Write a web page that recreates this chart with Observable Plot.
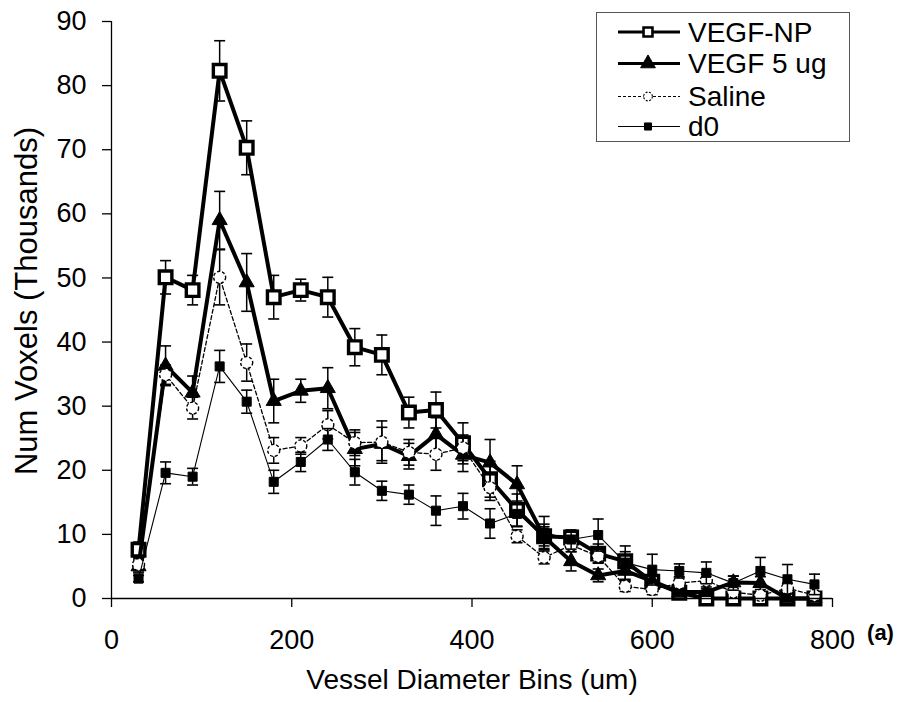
<!DOCTYPE html>
<html><head><meta charset="utf-8">
<script src="https://cdn.jsdelivr.net/npm/d3@7"></script>
<script src="https://cdn.jsdelivr.net/npm/@observablehq/plot@0.6"></script>
<style>
body{margin:0;background:#fff;font-family:"Liberation Sans",Arial,sans-serif;}
#wrap{position:relative;width:911px;height:702px;}
#legend{position:absolute;left:596px;top:12px;}
</style></head><body><div id="wrap"></div>
<script>
const bins = [30,60,90,120,150,180,210,240,270,300,330,360,390,420,450,480,510,540,570,600,630,660,690,720,750,780];
const vegfNP    = [7.6,50.1,48.1,82.3,70.3,47.0,48.1,47.0,39.2,38.0,29.0,29.4,24.2,18.6,13.8,9.7,9.5,7.0,5.8,2.6,0.9,0,0,0,0,0];
const vegfNPErr = [1.2,2.6,2.3,4.7,4.2,3.4,1.7,3.1,2.9,3.1,2.4,2.8,3.2,2.8,2.5,1.5,1.0,1.5,1.5,1.0,0.5,0,0,0,0,0];
const vegf5     = [5.0,36.3,32.1,59.0,49.3,30.8,32.4,32.8,23.3,24.1,22.2,25.6,22.4,21.2,17.8,9.6,5.8,3.6,4.3,2.7,1.0,1.0,2.5,2.4,0,0];
const vegf5Err  = [1.0,3.1,2.6,4.5,4.5,3.4,1.8,3.2,2.6,2.6,2.0,2.6,2.6,3.6,2.9,2.0,1.5,1.0,1.5,1.0,0.5,0.5,1.0,1.0,0,0];
const saline    = [5.3,34.9,29.7,50.1,36.8,23.1,23.8,27.1,24.3,24.4,22.8,22.5,23.5,17.3,9.7,6.4,8.3,6.6,1.9,1.4,2.4,2.8,1.0,0.5,1.6,0.5];
const salineErr = [1.0,1.5,1.7,4.3,2.9,2.0,1.3,2.2,2.0,3.3,2.0,2.5,2.0,2.0,1.0,1.0,1.0,1.0,0.8,0.8,1.0,1.0,0.5,0.5,0.8,0.5];
const d0        = [3.1,19.6,19.0,36.2,30.7,18.2,21.3,24.8,19.7,16.8,16.2,13.7,14.4,11.7,13.2,10.3,9.2,9.9,5.6,4.5,4.3,4.0,2.4,4.3,3.0,2.2];
const d0Err     = [0.5,1.7,1.3,2.5,1.8,1.8,1.5,1.7,2.0,1.5,1.5,2.3,2.0,2.3,2.0,2.5,1.5,2.5,2.6,2.4,1.1,1.7,1.1,2.1,2.3,1.6];
const seriesNames = ["VEGF-NP","VEGF 5 ug","Saline","d0"];
const xTicks = [0,200,400,600,800];
const yTicks = [0,10,20,30,40,50,60,70,80,90];
const xTitle = "Vessel Diameter Bins (um)";
const yTitle = "Num Voxels (Thousands)";
const panelTag = "(a)";

const FONT = '"Liberation Sans", Arial, sans-serif';
const capSymbol = {draw(ctx, size){ const r = Math.sqrt(size/Math.PI); ctx.moveTo(-r,0); ctx.lineTo(r,0); }};

const styles = [
  {symbol:"square", r:7.1, fill:"#fff", sw:3.4, lw:4, dash:null, mdash:null},
  {symbol:"triangle", r:5.6, fill:"#000", sw:1, lw:4, dash:null, mdash:null},
  {symbol:"circle", r:6, fill:"#fff", sw:1.4, lw:1.3, dash:"4,2.5", mdash:"3,2"},
  {symbol:"square", r:5.1, fill:"#000", sw:1, lw:1.1, dash:null, mdash:null}
];
const values = [vegfNP, vegf5, saline, d0];
const errors = [vegfNPErr, vegf5Err, salineErr, d0Err];

function seriesMarks(vals, errs, s){
  const data = bins.map((x,i)=>({x, y: vals[i], lo: Math.max(0, vals[i]-errs[i]), hi: vals[i]+errs[i], e: errs[i]}));
  const withErr = data.filter(d=>d.e>0);
  return [
    Plot.ruleX(withErr, {x:"x", y1:"lo", y2:"hi", stroke:"#000", strokeWidth:1.5}),
    Plot.dot(withErr, {x:"x", y:"hi", symbol:capSymbol, r:5.5, stroke:"#000", fill:"none", strokeWidth:1.6}),
    Plot.dot(withErr.filter(d=>d.y-d.e>0), {x:"x", y:"lo", symbol:capSymbol, r:5.5, stroke:"#000", fill:"none", strokeWidth:1.6}),
    Plot.line(data, {x:"x", y:"y", stroke:"#000", strokeWidth:s.lw, strokeDasharray:s.dash, strokeLinejoin:"miter"}),
    Plot.dot(data, {x:"x", y:"y", symbol:s.symbol, r:s.r, fill:s.fill, stroke:"#000", strokeWidth:s.sw, strokeDasharray:s.mdash})
  ];
}

const chart = Plot.plot({
  width: 911, height: 702,
  marginLeft: 111, marginRight: 79, marginTop: 21, marginBottom: 104,
  x: {domain:[0,800]},
  y: {domain:[0,90]},
  style: {fontFamily: FONT, background:"#fff", color:"#000"},
  marks: [
    Plot.axisX({ticks:xTicks, tickSize:9, tickPadding:22, fontSize:27, label:null, strokeWidth:1.3}),
    Plot.axisY({ticks:yTicks, tickSize:9, tickPadding:16, fontSize:27, label:null, strokeWidth:1.3}),
    ...values.flatMap((v,i)=>seriesMarks(v, errors[i], styles[i])),
    Plot.ruleX([0], {stroke:"#000", strokeWidth:1.3}),
    Plot.ruleY([0], {stroke:"#000", strokeWidth:1.3}),
    Plot.text([xTitle], {text:d=>d, frameAnchor:"bottom", dy:82, fontSize:28, lineAnchor:"middle"}),
    Plot.text([yTitle], {text:d=>d, frameAnchor:"left", dx:-84, dy:-9, rotate:-90, fontSize:31, textAnchor:"middle", lineAnchor:"middle"}),
    Plot.text([panelTag], {text:d=>d, frameAnchor:"bottom-right", dx:48, dy:34, fontSize:22, fontWeight:"bold", textAnchor:"middle", lineAnchor:"middle"})
  ]
});
const wrap = document.getElementById("wrap");
wrap.appendChild(chart);

// Legend (HTML overlay with small SVG)
const lw = 254, lh = 130;
const leg = d3.select(wrap).append("svg").attr("id","legend").attr("width",lw).attr("height",lh);
leg.append("rect").attr("x",0.5).attr("y",0.5).attr("width",lw-1).attr("height",lh-1).attr("fill","#fff").attr("stroke","#555").attr("stroke-width",1);
const rowsY = [20, 51.5, 84.5, 114.5];
const legStyles = [
  {sym:d3.symbolSquare, size:80, fill:"#fff", sw:2.6, lw:3, dash:null, mdash:null},
  {sym:d3.symbolTriangle, size:95, fill:"#000", sw:1, lw:3, dash:null, mdash:null},
  {sym:d3.symbolCircle, size:60, fill:"#fff", sw:1.1, lw:1.1, dash:"3,2", mdash:"2,1.5"},
  {sym:d3.symbolSquare, size:50, fill:"#000", sw:1, lw:1, dash:null, mdash:null}
];
seriesNames.forEach((name,i)=>{
  const s = legStyles[i], y = rowsY[i];
  leg.append("line").attr("x1",22).attr("x2",84).attr("y1",y).attr("y2",y).attr("stroke","#000").attr("stroke-width",s.lw).attr("stroke-dasharray",s.dash);
  leg.append("path").attr("d", d3.symbol(s.sym, s.size)()).attr("transform",`translate(52,${y})`).attr("fill",s.fill).attr("stroke","#000").attr("stroke-width",s.sw).attr("stroke-dasharray",s.mdash);
  leg.append("text").attr("x",92).attr("y",y).attr("dy","0.35em").attr("font-size",28).attr("font-family",FONT).text(name);
});
</script></body></html>
